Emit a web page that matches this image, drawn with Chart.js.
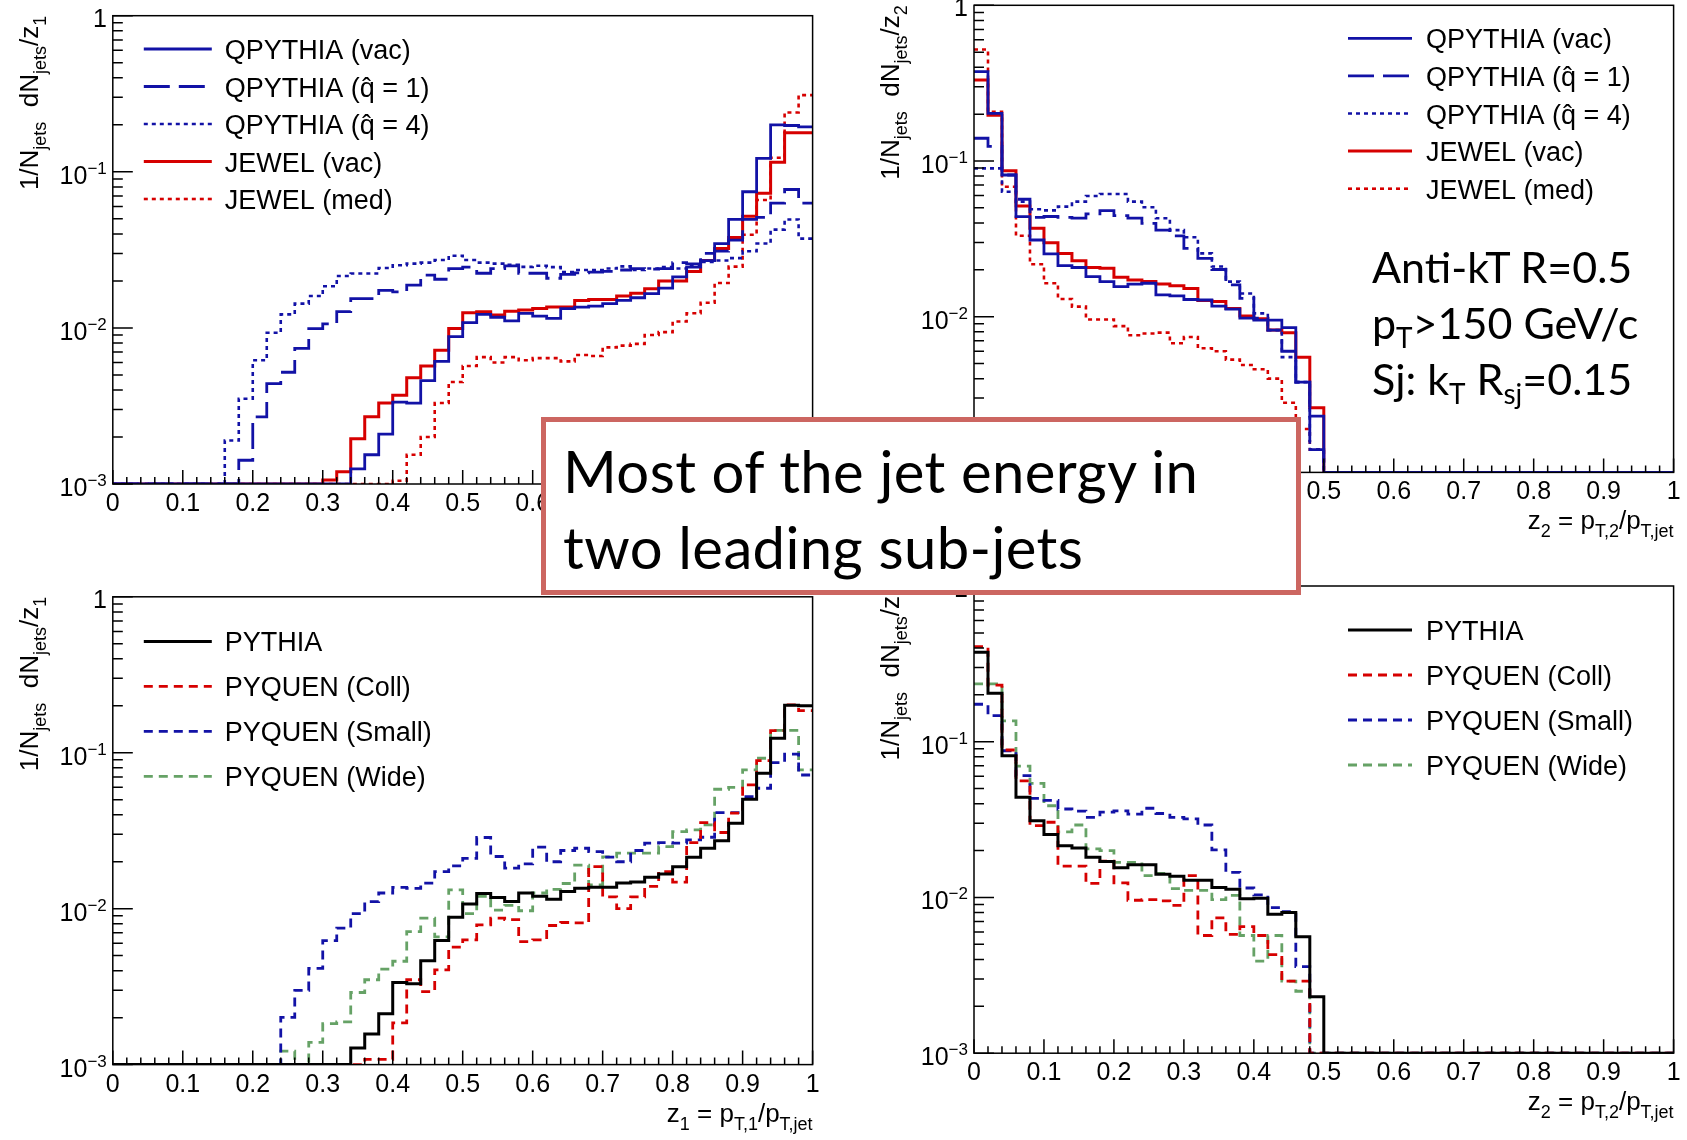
<!DOCTYPE html>
<html>
<head>
<meta charset="utf-8">
<script src="https://cdn.jsdelivr.net/npm/chart.js@4.4.1/dist/chart.umd.min.js"></script>
<style>
  html, body { margin: 0; padding: 0; background: #fff; }
  body { position: relative; width: 1687px; height: 1140px; overflow: hidden; }
  canvas { position: absolute; z-index: 1; }
  #box {
    position: absolute; left: 541px; top: 417px; width: 733px; height: 156.6px;
    padding: 11.4px 0 0 17px; border: 5px solid #cc6661; background: #fff; z-index: 5;
    font-family: Lato, "Open Sans", sans-serif; font-size: 58px; line-height: 76px; color: #000;
    letter-spacing: 0.4px; white-space: nowrap;
  }
  #note {
    position: absolute; left: 1372px; top: 239px; z-index: 2;
    font-family: Lato, "Open Sans", sans-serif; font-size: 43px; line-height: 56px; color: #000;
    white-space: nowrap;
  }
  .sub { font-size: 0.65em; position: relative; top: 0.32em; line-height: 0; }
</style>
</head>
<body>
<canvas id="tl" width="827" height="560" style="left:0px;top:0px"></canvas>
<canvas id="tr" width="826" height="560" style="left:861px;top:0px"></canvas>
<canvas id="bl" width="827" height="580" style="left:0px;top:560px"></canvas>
<canvas id="br" width="826" height="580" style="left:861px;top:560px"></canvas>

<div id="note">
  <div>Anti-kT R=0.5</div>
  <div>p<span class="sub">T</span>&gt;150 GeV/c</div>
  <div>Sj: k<span class="sub">T</span> R<span class="sub">sj</span>=0.15</div>
</div>
<div id="box">
  <div>Most of the jet energy in</div>
  <div>two leading sub-jets</div>
</div>

<script>
// histogram bins of width 0.02 from 0 to 1 (50 bins); 0 = empty bin
const BIN_W = 0.02;
const Y_MIN = 0.001, Y_MAX = 1;

const X_TICKS = [0, 0.1, 0.2, 0.3, 0.4, 0.5, 0.6, 0.7, 0.8, 0.9, 1];
const X_TICK_LABELS = ["0", "0.1", "0.2", "0.3", "0.4", "0.5", "0.6", "0.7", "0.8", "0.9", "1"];
const Y_DECADES = [1, 0.1, 0.01, 0.001];
const Y_EXPONENTS = ["", "\u22121", "\u22122", "\u22123"];

const qLabels = ["QPYTHIA (vac)", "QPYTHIA (q\u0302 = 1)", "QPYTHIA (q\u0302 = 4)", "JEWEL (vac)", "JEWEL (med)"];
const pLabels = ["PYTHIA", "PYQUEN (Coll)", "PYQUEN (Small)", "PYQUEN (Wide)"];

// ---- z1, QPYTHIA / JEWEL
const qpyVac1 = [
  0, 0, 0, 0, 0, 0, 0, 0, 0, 0,
  0, 0, 0, 0, 0, 0, 0, 0.00125, 0.00154, 0.00209,
  0.00335, 0.0033, 0.0046, 0.0061, 0.0088, 0.0108, 0.0122, 0.0117, 0.0111, 0.0124,
  0.0119, 0.0115, 0.0133, 0.0136, 0.0138, 0.0143, 0.015, 0.0156, 0.0166, 0.018,
  0.0212, 0.0245, 0.027, 0.0347, 0.0495, 0.0745, 0.122, 0.2, 0.198, 0.194
];
const qpyQ1_1 = [
  0, 0, 0, 0, 0, 0, 0, 0, 0, 0.00142,
  0.00269, 0.0044, 0.0052, 0.0074, 0.0099, 0.0106, 0.0127, 0.0154, 0.0154, 0.0174,
  0.017, 0.0188, 0.0218, 0.0205, 0.024, 0.0245, 0.0224, 0.024, 0.025, 0.0224,
  0.0224, 0.0208, 0.022, 0.0225, 0.0228, 0.023, 0.0235, 0.024, 0.0238, 0.024,
  0.0262, 0.0257, 0.03, 0.031, 0.0365, 0.0495, 0.051, 0.063, 0.077, 0.063
];
const qpyQ4_1 = [
  0, 0, 0, 0, 0, 0, 0, 0, 0.0019, 0.00352,
  0.0062, 0.0093, 0.0122, 0.0143, 0.016, 0.0185, 0.0215, 0.0223, 0.0223, 0.0242,
  0.0252, 0.0258, 0.0262, 0.0272, 0.029, 0.0272, 0.0262, 0.0258, 0.0254, 0.0246,
  0.025, 0.0245, 0.0228, 0.0235, 0.0235, 0.024, 0.0248, 0.0235, 0.024, 0.0245,
  0.024, 0.025, 0.0265, 0.027, 0.028, 0.031, 0.0347, 0.0426, 0.0495, 0.0373
];
const jewelVac1 = [
  0, 0, 0, 0, 0, 0, 0, 0, 0, 0,
  0, 0, 0, 0, 0, 0.00106, 0.0012, 0.00195, 0.0027, 0.0033,
  0.0037, 0.0048, 0.0057, 0.0072, 0.0099, 0.0125, 0.0127, 0.0121, 0.0128, 0.013,
  0.0133, 0.0136, 0.0136, 0.015, 0.0152, 0.0152, 0.016, 0.0167, 0.0178, 0.02,
  0.02, 0.023, 0.027, 0.0322, 0.038, 0.052, 0.073, 0.115, 0.178, 0.178
];
const jewelMed1 = [
  0, 0, 0, 0, 0, 0, 0, 0, 0, 0,
  0, 0, 0, 0, 0, 0, 0, 0, 0, 0,
  0.00105, 0.00154, 0.002, 0.0033, 0.0045, 0.0057, 0.0065, 0.006, 0.0065, 0.0062,
  0.0064, 0.0064, 0.0061, 0.0067, 0.0066, 0.0075, 0.0077, 0.0079, 0.009, 0.0094,
  0.011, 0.0124, 0.0145, 0.0194, 0.0247, 0.0395, 0.066, 0.123, 0.24, 0.31
];

// ---- z2, QPYTHIA / JEWEL
const qpyVac2 = [
  0.375, 0.202, 0.0813, 0.0439, 0.0311, 0.0253, 0.0213, 0.0207, 0.0181, 0.0168,
  0.0156, 0.0162, 0.0164, 0.0138, 0.0136, 0.0129, 0.0128, 0.0117, 0.0112, 0.0098,
  0.0095, 0.0095, 0.0085, 0.0038, 0.0023, 0, 0, 0, 0, 0,
  0, 0, 0, 0, 0, 0, 0, 0, 0, 0,
  0, 0, 0, 0, 0, 0, 0, 0, 0, 0
];
const qpyQ1_2 = [
  0.14, 0.124, 0.0813, 0.0568, 0.0435, 0.044, 0.0435, 0.043, 0.0457, 0.048,
  0.0446, 0.043, 0.0398, 0.036, 0.033, 0.0275, 0.0237, 0.0201, 0.016, 0.0131,
  0.0098, 0.0082, 0.006, 0.0038, 0.0014, 0, 0, 0, 0, 0,
  0, 0, 0, 0, 0, 0, 0, 0, 0, 0,
  0, 0, 0, 0, 0, 0, 0, 0, 0, 0
];
const qpyQ4_2 = [
  0.0897, 0.0897, 0.0635, 0.0548, 0.049, 0.0482, 0.0509, 0.0548, 0.0596, 0.0614,
  0.0614, 0.0548, 0.0505, 0.0429, 0.036, 0.0324, 0.0255, 0.021, 0.0168, 0.0141,
  0.0105, 0.0082, 0.0055, 0.0038, 0.0014, 0, 0, 0, 0, 0,
  0, 0, 0, 0, 0, 0, 0, 0, 0, 0,
  0, 0, 0, 0, 0, 0, 0, 0, 0, 0
];
const jewelVac2 = [
  0.331, 0.197, 0.0866, 0.0514, 0.037, 0.0299, 0.0255, 0.0229, 0.0207, 0.0205,
  0.0179, 0.0172, 0.0168, 0.0162, 0.0158, 0.0152, 0.0127, 0.0125, 0.0113, 0.0101,
  0.0097, 0.0082, 0.0079, 0.0055, 0.0026, 0, 0, 0, 0, 0,
  0, 0, 0, 0, 0, 0, 0, 0, 0, 0,
  0, 0, 0, 0, 0, 0, 0, 0, 0, 0
];
const jewelMed2 = [
  0.52, 0.207, 0.0684, 0.0331, 0.0217, 0.0164, 0.013, 0.0116, 0.0096, 0.0096,
  0.0087, 0.0076, 0.0078, 0.0079, 0.00675, 0.0074, 0.00627, 0.006, 0.0053, 0.0049,
  0.0046, 0.004, 0.0028, 0.0019, 0.0014, 0, 0, 0, 0, 0,
  0, 0, 0, 0, 0, 0, 0, 0, 0, 0,
  0, 0, 0, 0, 0, 0, 0, 0, 0, 0
];

// ---- z1, PYTHIA / PYQUEN
const pythia1 = [
  0, 0, 0, 0, 0, 0, 0, 0, 0, 0,
  0, 0, 0, 0, 0, 0, 0, 0.00128, 0.00157, 0.00212,
  0.00336, 0.0033, 0.00463, 0.00625, 0.0088, 0.0107, 0.0125, 0.0118, 0.0111, 0.0126,
  0.012, 0.0115, 0.0129, 0.0135, 0.0137, 0.0137, 0.0146, 0.0148, 0.0159, 0.0167,
  0.0186, 0.0214, 0.0244, 0.0273, 0.0353, 0.0504, 0.0739, 0.124, 0.2015, 0.2
];
const coll1 = [
  0, 0, 0, 0, 0, 0, 0, 0, 0, 0,
  0, 0, 0, 0, 0, 0, 0, 0, 0.00108, 0.00108,
  0.00185, 0.0035, 0.00294, 0.00405, 0.00566, 0.0063, 0.00787, 0.0087, 0.0085, 0.00615,
  0.0063, 0.0078, 0.00815, 0.0081, 0.0186, 0.0119, 0.01, 0.0119, 0.0139, 0.0173,
  0.0148, 0.0265, 0.0356, 0.0308, 0.041, 0.0622, 0.089, 0.1386, 0.203, 0.186
];
const small1 = [
  0, 0, 0, 0, 0, 0, 0, 0, 0, 0,
  0, 0, 0.00201, 0.00299, 0.00414, 0.00624, 0.0075, 0.0093, 0.0111, 0.0126,
  0.0137, 0.0135, 0.0146, 0.0173, 0.0188, 0.021, 0.0286, 0.0216, 0.0182, 0.0194,
  0.0248, 0.02, 0.0236, 0.0244, 0.0232, 0.0214, 0.02, 0.0236, 0.0263, 0.0265,
  0.0263, 0.0276, 0.0287, 0.0413, 0.0413, 0.0523, 0.0592, 0.0865, 0.098, 0.072
];
const wide1 = [
  0, 0, 0, 0, 0, 0, 0, 0, 0, 0,
  0, 0, 0.00122, 0, 0.00139, 0.00183, 0.00188, 0.0029, 0.0035, 0.0041,
  0.0046, 0.00713, 0.0087, 0.0066, 0.0132, 0.0093, 0.012, 0.0098, 0.0105, 0.0097,
  0.0126, 0.0133, 0.0145, 0.019, 0.0142, 0.0215, 0.0227, 0.0227, 0.0227, 0.025,
  0.0312, 0.032, 0.0345, 0.0583, 0.06, 0.0776, 0.0922, 0.139, 0.139, 0.0776
];

// ---- z2, PYTHIA / PYQUEN
const pythia2 = [
  0.375, 0.205, 0.0813, 0.044, 0.0311, 0.0254, 0.0215, 0.0208, 0.0181, 0.017,
  0.0155, 0.0162, 0.0162, 0.0141, 0.0137, 0.0129, 0.0129, 0.0116, 0.0113, 0.0098,
  0.0099, 0.0078, 0.008, 0.0056, 0.0023, 0, 0, 0, 0, 0,
  0, 0, 0, 0, 0, 0, 0, 0, 0, 0,
  0, 0, 0, 0, 0, 0, 0, 0, 0, 0
];
const coll2 = [
  0.408, 0.231, 0.0885, 0.056, 0.0289, 0.0304, 0.0159, 0.0159, 0.0123, 0.0171,
  0.0124, 0.0096, 0.0097, 0.0095, 0.0089, 0.0138, 0.0057, 0.0074, 0.0058, 0.0065,
  0.0057, 0.0043, 0.0029, 0.0029, 0, 0, 0, 0, 0, 0,
  0, 0, 0, 0, 0, 0, 0, 0, 0, 0,
  0, 0, 0, 0, 0, 0, 0, 0, 0, 0
];
const small2 = [
  0.174, 0.147, 0.0875, 0.0605, 0.0433, 0.042, 0.037, 0.0358, 0.0327, 0.0353,
  0.036, 0.0343, 0.0374, 0.0346, 0.0327, 0.032, 0.0292, 0.0202, 0.0145, 0.0115,
  0.0104, 0.0086, 0.0081, 0.0036, 0, 0, 0, 0, 0, 0,
  0, 0, 0, 0, 0, 0, 0, 0, 0, 0,
  0, 0, 0, 0, 0, 0, 0, 0, 0, 0
];
const wide2 = [
  0.235, 0.235, 0.136, 0.0698, 0.054, 0.0388, 0.0264, 0.0292, 0.0205, 0.02,
  0.0168, 0.0168, 0.0138, 0.0143, 0.0114, 0.0111, 0.0111, 0.0097, 0.0103, 0.0057,
  0.0039, 0.0057, 0.0029, 0.0025, 0, 0, 0, 0, 0, 0,
  0, 0, 0, 0, 0, 0, 0, 0, 0, 0,
  0, 0, 0, 0, 0, 0, 0, 0, 0, 0
];

// styles
const BLUE = "#1212a6", RED = "#d60000", GREEN = "#66a266", BLACK = "#000";
const LONG_DASH = [26, 9], DOT = [4, 4], DASH = [9, 6];
const qStyles = [
  { color: BLUE, width: 2.8, dash: [] },
  { color: BLUE, width: 2.8, dash: LONG_DASH },
  { color: BLUE, width: 2.6, dash: DOT },
  { color: RED, width: 3, dash: [] },
  { color: RED, width: 2.6, dash: DOT }
];
const pStyles = [
  { color: BLACK, width: 3, dash: [] },
  { color: RED, width: 2.8, dash: DASH },
  { color: BLUE, width: 2.8, dash: DASH },
  { color: GREEN, width: 2.8, dash: DASH }
];

const TXT = '"Liberation Sans", Arial, Helvetica, sans-serif';

// ROOT-like histogram: one point per bin's lower edge + closing point at x = 1
function histPoints(values) {
  const pts = values.map((v, i) => ({ x: i * BIN_W, y: v > 0 ? v : Y_MIN }));
  pts.push({ x: values.length * BIN_W, y: pts[pts.length - 1].y });
  return pts;
}

function drawRich(ctx, segs, x, y, align, size, subSize, subDrop) {
  const fonts = [size + "px " + TXT, subSize + "px " + TXT];
  let total = 0;
  const widths = segs.map(([t, s]) => {
    ctx.font = fonts[s];
    const w = ctx.measureText(t).width;
    total += w;
    return w;
  });
  let cx = align === "right" ? x - total : x;
  ctx.textAlign = "left";
  ctx.textBaseline = "alphabetic";
  segs.forEach(([t, s], i) => {
    ctx.font = fonts[s];
    ctx.fillText(t, cx, y + (s ? subDrop : 0));
    cx += widths[i];
  });
}

function rootFrame(p) {
  return {
    id: "rootFrame",
    afterDraw(chart) {
      const { ctx, chartArea: a, scales: { x, y } } = chart;
      ctx.save();
      ctx.setLineDash([]);
      ctx.strokeStyle = "#000";
      ctx.lineWidth = 1.5;
      ctx.strokeRect(a.left, a.top, a.right - a.left, a.bottom - a.top);

      // ticks (inside the frame)
      ctx.beginPath();
      for (let i = 0; i <= 50; i++) {
        const px = x.getPixelForValue(i * BIN_W);
        ctx.moveTo(px, a.bottom);
        ctx.lineTo(px, a.bottom - (i % 5 === 0 ? 14 : 7));
      }
      Y_DECADES.forEach((d, k) => {
        for (let m = 1; m <= 9; m++) {
          if (k === 0 && m > 1) break;
          const py = y.getPixelForValue(d * m);
          ctx.moveTo(a.left, py);
          ctx.lineTo(a.left + (m === 1 ? 20 : 10), py);
        }
      });
      ctx.stroke();

      // tick labels
      ctx.fillStyle = "#000";
      ctx.font = "25px " + TXT;
      ctx.textAlign = "center";
      ctx.textBaseline = "alphabetic";
      X_TICKS.forEach((v, i) => ctx.fillText(X_TICK_LABELS[i], x.getPixelForValue(v), a.bottom + 27));
      Y_DECADES.forEach((v, i) => {
        const py = y.getPixelForValue(v);
        const right = a.left - 6;
        const exp = Y_EXPONENTS[i];
        ctx.textAlign = "left";
        if (!exp) {
          ctx.font = "25px " + TXT;
          const w1 = ctx.measureText("1").width;
          ctx.fillText("1", right - w1, py + 11);
          return;
        }
        ctx.font = "17px " + TXT;
        const we = ctx.measureText(exp).width;
        ctx.fillText(exp, right - we, py + 2);
        ctx.font = "25px " + TXT;
        const wb = ctx.measureText("10").width;
        ctx.fillText("10", right - we - wb, py + 12);
      });

      // axis titles
      drawRich(ctx, p.xTitle, a.right, a.bottom + 57, "right", 26, 18, 8);
      ctx.save();
      ctx.translate(a.left - 75, a.top);
      ctx.rotate(-Math.PI / 2);
      drawRich(ctx, p.yTitle, 0, 0, "right", 26, 18, 8);
      ctx.restore();

      // legend
      const L = p.legend;
      p.labels.forEach((lab, k) => {
        const st = p.styles[k];
        const ly = a.top + L.y0 + k * L.dy;
        ctx.strokeStyle = st.color;
        ctx.lineWidth = st.width;
        ctx.setLineDash(st.dash);
        ctx.beginPath();
        ctx.moveTo(a.left + L.x0, ly);
        ctx.lineTo(a.left + L.x1, ly);
        ctx.stroke();
        ctx.setLineDash([]);
        ctx.fillStyle = "#000";
        ctx.font = "27px " + TXT;
        ctx.textAlign = "left";
        ctx.textBaseline = "alphabetic";
        ctx.fillText(lab, a.left + L.tx, ly + 10);
      });
      ctx.restore();
    }
  };
}

const yTitle1 = [["1/N", 0], ["jets", 1], ["  dN", 0], ["jets", 1], ["/z", 0], ["1", 1]];
const yTitle2 = [["1/N", 0], ["jets", 1], ["  dN", 0], ["jets", 1], ["/z", 0], ["2", 1]];
const xTitle1 = [["z", 0], ["1", 1], [" = p", 0], ["T,1", 1], ["/p", 0], ["T,jet", 1]];
const xTitle2 = [["z", 0], ["2", 1], [" = p", 0], ["T,2", 1], ["/p", 0], ["T,jet", 1]];

const panels = [
  { id: "tl", pad: { left: 112.8, top: 15.7, right: 14.4, bottom: 76 },
    series: [qpyVac1, qpyQ1_1, qpyQ4_1, jewelVac1, jewelMed1], styles: qStyles, labels: qLabels,
    legend: { x0: 31, x1: 99, tx: 112, y0: 33.3, dy: 37.5 }, xTitle: xTitle1, yTitle: yTitle1 },
  { id: "tr", pad: { left: 113, top: 5.3, right: 13.4, bottom: 87.6 },
    series: [qpyVac2, qpyQ1_2, qpyQ4_2, jewelVac2, jewelMed2], styles: qStyles, labels: qLabels,
    legend: { x0: 374, x1: 438, tx: 452, y0: 33, dy: 37.6 }, xTitle: xTitle2, yTitle: yTitle2 },
  { id: "bl", pad: { left: 112.8, top: 36.8, right: 14.4, bottom: 75.4 },
    series: [pythia1, coll1, small1, wide1], styles: pStyles, labels: pLabels,
    legend: { x0: 31, x1: 99, tx: 112, y0: 44.6, dy: 45 }, xTitle: xTitle1, yTitle: yTitle1 },
  { id: "br", pad: { left: 113, top: 26, right: 13.4, bottom: 86.8 },
    series: [pythia2, coll2, small2, wide2], styles: pStyles, labels: pLabels,
    legend: { x0: 374, x1: 438, tx: 452, y0: 44, dy: 45 }, xTitle: xTitle2, yTitle: yTitle2 }
];

panels.forEach(p => {
  new Chart(document.getElementById(p.id), {
    type: "line",
    data: {
      datasets: p.series.map((vals, k) => ({
        label: p.labels[k],
        data: histPoints(vals),
        stepped: true,
        borderColor: p.styles[k].color,
        borderWidth: p.styles[k].width,
        borderDash: p.styles[k].dash,
        borderJoinStyle: "miter",
        borderCapStyle: "butt",
        pointRadius: 0,
        fill: false
      }))
    },
    options: {
      responsive: false,
      animation: false,
      devicePixelRatio: 1,
      layout: { padding: p.pad },
      plugins: { legend: { display: false }, tooltip: { enabled: false } },
      scales: {
        x: { type: "linear", min: 0, max: 1, display: false },
        y: { type: "logarithmic", min: Y_MIN, max: Y_MAX, display: false }
      }
    },
    plugins: [rootFrame(p)]
  });
});
</script>
</body>
</html>
